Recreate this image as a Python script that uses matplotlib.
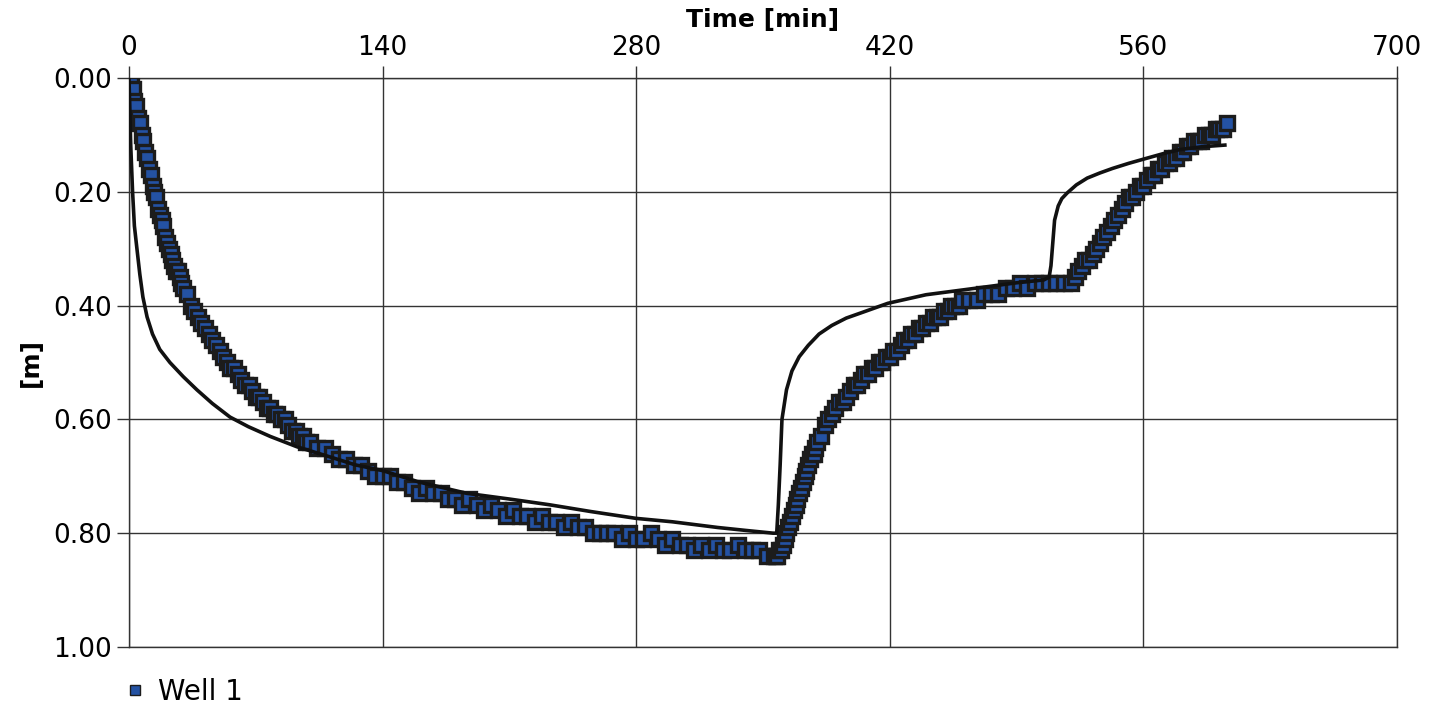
import matplotlib
matplotlib.use("Agg")
from matplotlib import pyplot as plt
from matplotlib.ticker import FormatStrFormatter

# measured drawdown at Well 1, [min] and [m]
well_t = [0, 1, 2, 3, 4, 5, 6, 7, 8, 9, 10, 11, 12, 13, 14, 15, 16, 17, 18, 19,
          20, 21, 22, 23, 24, 25, 26, 27, 28, 29, 30, 32, 34, 36, 38, 40, 42, 44,
          46, 48, 50, 52, 54, 56, 58, 60, 62, 64, 66, 68, 70, 72, 74, 76, 78, 80,
          82, 84, 86, 88, 90, 92, 94, 96, 98, 100, 104, 108, 112, 116, 120, 124,
          128, 132, 136, 140, 144, 148, 152, 156, 160, 164, 168, 172, 176, 180,
          184, 188, 192, 196, 200, 204, 208, 212, 216, 220, 224, 228, 232, 236,
          240, 244, 248, 252, 256, 260, 264, 268, 272, 276, 280, 284, 288, 292,
          296, 300, 304, 308, 312, 316, 320, 324, 328, 332, 336, 340, 344, 348,
          352, 356, 357, 358, 359, 360, 361, 362, 363, 364, 365, 366, 367, 368,
          369, 370, 371, 372, 373, 374, 375, 376, 377, 378, 379, 380, 382, 384,
          386, 388, 390, 392, 394, 396, 398, 400, 402, 404, 406, 408, 410, 412,
          414, 416, 418, 420, 422, 424, 426, 428, 430, 432, 434, 436, 438, 440,
          442, 444, 446, 448, 450, 452, 454, 456, 458, 460, 464, 468, 472, 476,
          480, 484, 488, 492, 496, 500, 504, 508, 512, 516, 520, 522, 524, 526,
          528, 530, 532, 534, 536, 538, 540, 542, 544, 546, 548, 550, 552, 554,
          556, 558, 560, 562, 564, 566, 568, 570, 572, 574, 576, 578, 580, 582,
          584, 586, 588, 590, 592, 594, 596, 598, 600, 602, 604, 606]
well_d = [0.00, 0.01, 0.02, 0.04, 0.05, 0.07, 0.08, 0.10, 0.11, 0.13, 0.14, 0.16,
          0.17, 0.19, 0.20, 0.21, 0.23, 0.24, 0.25, 0.26, 0.28, 0.29, 0.30, 0.31,
          0.32, 0.33, 0.34, 0.34, 0.35, 0.36, 0.37, 0.38, 0.40, 0.41, 0.42, 0.43,
          0.44, 0.45, 0.46, 0.47, 0.48, 0.49, 0.50, 0.51, 0.51, 0.52, 0.53, 0.54,
          0.54, 0.55, 0.56, 0.56, 0.57, 0.58, 0.58, 0.59, 0.59, 0.60, 0.60, 0.61,
          0.62, 0.62, 0.63, 0.63, 0.64, 0.64, 0.65, 0.65, 0.66, 0.67, 0.67, 0.68,
          0.68, 0.69, 0.70, 0.70, 0.70, 0.71, 0.71, 0.72, 0.73, 0.72, 0.73, 0.73,
          0.74, 0.74, 0.75, 0.74, 0.75, 0.76, 0.75, 0.76, 0.77, 0.76, 0.77, 0.77,
          0.78, 0.77, 0.78, 0.78, 0.79, 0.78, 0.79, 0.79, 0.80, 0.80, 0.80, 0.80,
          0.81, 0.80, 0.81, 0.81, 0.80, 0.81, 0.82, 0.81, 0.82, 0.82, 0.83, 0.82,
          0.83, 0.82, 0.83, 0.83, 0.82, 0.83, 0.83, 0.83, 0.84, 0.84, 0.84, 0.84,
          0.83, 0.83, 0.82, 0.81, 0.80, 0.79, 0.78, 0.77, 0.76, 0.75, 0.74, 0.73,
          0.72, 0.71, 0.70, 0.69, 0.68, 0.67, 0.66, 0.66, 0.65, 0.64, 0.63, 0.61,
          0.60, 0.59, 0.58, 0.57, 0.57, 0.56, 0.55, 0.54, 0.54, 0.53, 0.52, 0.52,
          0.51, 0.51, 0.50, 0.50, 0.49, 0.49, 0.48, 0.48, 0.47, 0.46, 0.46, 0.45,
          0.45, 0.44, 0.44, 0.43, 0.43, 0.42, 0.42, 0.42, 0.41, 0.41, 0.40, 0.40,
          0.40, 0.39, 0.39, 0.39, 0.38, 0.38, 0.38, 0.37, 0.37, 0.36, 0.37, 0.36,
          0.36, 0.36, 0.36, 0.36, 0.36, 0.35, 0.34, 0.33, 0.32, 0.32, 0.31, 0.30,
          0.29, 0.28, 0.27, 0.26, 0.25, 0.24, 0.23, 0.22, 0.21, 0.21, 0.20, 0.19,
          0.19, 0.18, 0.17, 0.17, 0.16, 0.16, 0.15, 0.15, 0.14, 0.14, 0.13, 0.13,
          0.12, 0.12, 0.11, 0.11, 0.11, 0.10, 0.10, 0.10, 0.09, 0.09, 0.09, 0.08]

# fitted model curve
model_t = [0, 0.5, 1, 2, 3, 4.4, 6, 7.7, 10, 13, 17, 22.6, 30, 37.5, 46, 55.8, 66,
           78, 92.6, 110, 125, 140, 160, 186.5, 210, 232, 255, 280, 300, 325,
           340, 355.6, 357.6, 358.5, 359.5, 360.5, 363, 366, 370, 375, 381, 388,
           396, 404, 419, 440, 464, 490, 505, 508, 509, 510, 511, 513, 515, 518,
           523, 529, 536, 543, 552, 562, 571, 580, 592, 605]
model_d = [0.00, 0.06, 0.12, 0.20, 0.26, 0.30, 0.345, 0.385, 0.42, 0.45, 0.477,
           0.50, 0.525, 0.548, 0.572, 0.596, 0.613, 0.63, 0.648, 0.665, 0.68,
           0.69, 0.71, 0.73, 0.74, 0.75, 0.762, 0.774, 0.78, 0.79, 0.795, 0.80,
           0.80, 0.75, 0.68, 0.60, 0.548, 0.515, 0.49, 0.47, 0.45, 0.435, 0.422,
           0.413, 0.396, 0.381, 0.371, 0.36, 0.355, 0.35, 0.33, 0.29, 0.25,
           0.225, 0.212, 0.202, 0.188, 0.176, 0.167, 0.159, 0.15, 0.141, 0.133,
           0.126, 0.121, 0.118]

x_ticks = [0, 140, 280, 420, 560, 700]
y_ticks = [0.0, 0.2, 0.4, 0.6, 0.8, 1.0]

fig = plt.figure(figsize=(14.36, 7.06), dpi=100)
ax = fig.add_axes([0.0898, 0.0836, 0.883, 0.806])

ax.plot(well_t, well_d, 's', ms=10, mfc='#2452a3', mec='#1c1c1c', mew=2.4,
        label='Well 1', zorder=3)
ax.plot(model_t, model_d, '-', color='#111111', lw=2.6, zorder=4)

ax.set_xlim(0, 700)
ax.set_ylim(1.0, 0.0)
ax.set_xticks(x_ticks)
ax.set_yticks(y_ticks)
ax.yaxis.set_major_formatter(FormatStrFormatter('%.2f'))
ax.xaxis.tick_top()
ax.xaxis.set_label_position('top')
ax.tick_params(axis='both', labelsize=19, length=9, width=1, color='#333333',
               direction='out', pad=3)
ax.set_xlabel('Time [min]', fontsize=18, fontweight='bold', labelpad=6)
ax.set_ylabel('[m]', fontsize=18, fontweight='bold', labelpad=8)
ax.grid(True, color='#333333', lw=1)
for s in ax.spines.values():
    s.set_color('#333333')
    s.set_linewidth(1)

leg = ax.legend(loc='upper left', bbox_to_anchor=(-0.012, -0.035), frameon=False,
                fontsize=20, handlelength=0.7, handletextpad=0.5,
                markerscale=0.75, borderaxespad=0)
for h in leg.legend_handles:
    h.set_markeredgewidth(1.0)

fig.savefig('out.png', dpi=100)
plt.close('all')
